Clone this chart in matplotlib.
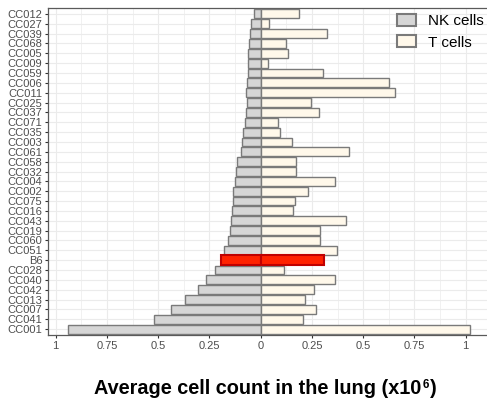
import matplotlib
matplotlib.use("Agg")
from matplotlib import pyplot as plt
from matplotlib.patches import Patch
from matplotlib.ticker import MultipleLocator
from matplotlib.transforms import offset_copy

plt.rcParams["font.family"] = ["Liberation Sans", "DejaVu Sans"]

# rows listed top to bottom
strains = ["CC012", "CC027", "CC039", "CC068", "CC005", "CC009", "CC059", "CC006",
           "CC011", "CC025", "CC037", "CC071", "CC035", "CC003", "CC061", "CC058",
           "CC032", "CC004", "CC002", "CC075", "CC016", "CC043", "CC019", "CC060",
           "CC051", "B6", "CC028", "CC040", "CC042", "CC013", "CC007", "CC041", "CC001"]
nk_cells = [0.033, 0.049, 0.054, 0.059, 0.063, 0.063, 0.063, 0.066,
            0.070, 0.068, 0.070, 0.078, 0.085, 0.090, 0.098, 0.117,
            0.122, 0.125, 0.137, 0.137, 0.140, 0.143, 0.148, 0.161,
            0.178, 0.194, 0.223, 0.268, 0.304, 0.371, 0.439, 0.522, 0.939]
t_cells = [0.187, 0.042, 0.325, 0.122, 0.132, 0.037, 0.305, 0.624,
           0.654, 0.247, 0.286, 0.083, 0.094, 0.154, 0.429, 0.172,
           0.172, 0.361, 0.231, 0.169, 0.158, 0.418, 0.289, 0.289,
           0.371, 0.307, 0.112, 0.364, 0.259, 0.216, 0.268, 0.206, 1.020]
xticks = [-1, -0.75, -0.5, -0.25, 0, 0.25, 0.5, 0.75, 1]
xlabels = ["1", "0.75", "0.5", "0.25", "0", "0.25", "0.5", "0.75", "1"]

nk_fill, t_fill, edge = "#D6D6D6", "#FFF8EA", "#7A7A7A"
red_fill, red_edge = "#FF2200", "#C00000"

W, H = 487, 405
fig = plt.figure(figsize=(W / 100, H / 100), dpi=100)
ax = fig.add_axes([48 / W, 1 - 335 / H, (487 - 48) / W, (335 - 8) / H])

n = len(strains)
ypos = [n - 1 - i for i in range(n)]
for y, s, nk, t in zip(ypos, strains, nk_cells, t_cells):
    if s == "B6":
        continue
    ax.barh(y, -nk, height=0.9, color=nk_fill, edgecolor=edge, linewidth=1.0, zorder=3)
    ax.barh(y, t, height=0.9, color=t_fill, edgecolor=edge, linewidth=1.0, zorder=3)
i = strains.index("B6")
ax.barh(ypos[i], -nk_cells[i], height=0.95, color=red_fill, edgecolor=red_edge, linewidth=1.5, zorder=4)
ax.barh(ypos[i], t_cells[i], height=0.95, color=red_fill, edgecolor=red_edge, linewidth=1.5, zorder=4)

ax.set_xlim(-1.0376, (487 - 260.7) / 205)
ax.set_ylim(-0.6, n - 0.4)
ax.set_yticks(ypos)
ax.set_yticklabels(strains)
ax.set_xticks(xticks)
ax.set_xticklabels(xlabels)
ax.xaxis.set_minor_locator(MultipleLocator(0.125))
ax.tick_params(axis="both", which="major", labelsize=8.0, labelcolor="#4D4D4D",
               color="#333333", length=2.5, width=0.8, pad=1.5)
ax.tick_params(axis="x", which="minor", length=0)
ax.grid(True, which="major", color="#EBEBEB", linewidth=0.8, zorder=0)
ax.grid(True, which="minor", axis="x", color="#EBEBEB", linewidth=0.5, zorder=0)
ax.set_axisbelow(True)
for side in ["left", "top", "bottom"]:
    ax.spines[side].set_color("#5A5A5A")
    ax.spines[side].set_linewidth(0.9)
ax.spines["right"].set_visible(False)

handles = [Patch(facecolor=nk_fill, edgecolor=edge, linewidth=1.5, label="NK cells"),
           Patch(facecolor=t_fill, edgecolor=edge, linewidth=1.5, label="T cells")]
fig.legend(handles=handles, loc="upper left", bbox_to_anchor=(397 / W, 1 - 14 / H),
           frameon=False, fontsize=11, handlelength=1.25, handleheight=0.85,
           handletextpad=0.8, labelspacing=0.45, borderaxespad=0, borderpad=0)

# x-axis title built from pieces so the superscript can be small
title_y = 1 - 394 / H
main_size = 14.3
t1 = fig.text(0, title_y, "Average cell count in the lung (x10",
              fontsize=main_size, fontweight="bold", ha="left", va="baseline")
t2 = fig.text(0, title_y, "6", fontsize=8.5, fontweight="bold", ha="left", va="baseline")
t3 = fig.text(0, title_y, ")", fontsize=main_size, fontweight="bold", ha="left", va="baseline")
fig.canvas.draw()
w1 = t1.get_window_extent().width
w2 = t2.get_window_extent().width
w3 = t3.get_window_extent().width
x0 = 265.5 - (w1 + w2 + w3 + 1.5) / 2
t1.set_x(x0 / W)
t2.set_transform(offset_copy(fig.transFigure, fig=fig, x=x0 + w1 + 0.5, y=6.5, units="dots"))
t3.set_transform(offset_copy(fig.transFigure, fig=fig, x=x0 + w1 + w2 + 1.5, y=0, units="dots"))

fig.savefig("out.png", dpi=100)
